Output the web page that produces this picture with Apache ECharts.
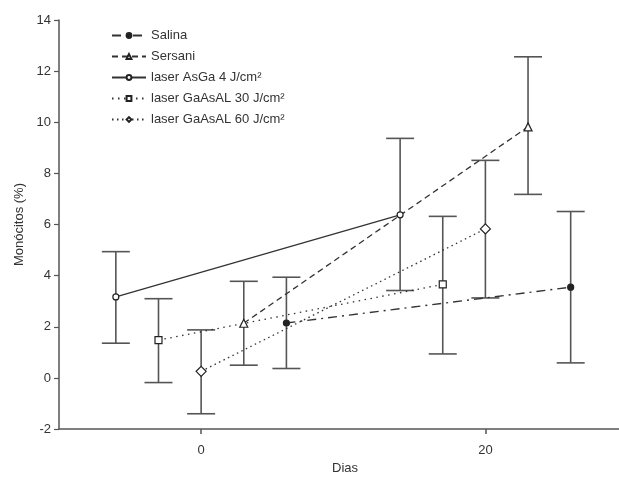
<!DOCTYPE html>
<html>
<head>
<meta charset="utf-8">
<script src="https://cdn.jsdelivr.net/npm/echarts@6/dist/echarts.min.js"></script>
<style>html,body{margin:0;padding:0;background:#fff}#c{width:619px;height:480px}</style>
</head>
<body>
<div id="c"></div>
<script>
const seriesNames = ['Salina', 'Sersani', 'laser AsGa 4 J/cm²', 'laser GaAsAL 30 J/cm²', 'laser GaAsAL 60 J/cm²'];
const xTickLabels = [0, 20];
const yTickLabels = [-2, 0, 2, 4, 6, 8, 10, 12, 14];

const salinaX = [6, 26];
const salinaMean = [2.15, 3.55];
const salinaLow = [0.37, 0.59];
const salinaHigh = [3.94, 6.51];

const sersaniX = [3, 23];
const sersaniMean = [2.14, 9.82];
const sersaniLow = [0.5, 7.18];
const sersaniHigh = [3.78, 12.56];

const asgaX = [-6, 14];
const asgaMean = [3.17, 6.38];
const asgaLow = [1.36, 3.42];
const asgaHigh = [4.94, 9.37];

const ga30X = [-3, 17];
const ga30Mean = [1.48, 3.66];
const ga30Low = [-0.18, 0.94];
const ga30High = [3.1, 6.32];

const ga60X = [0, 20];
const ga60Mean = [0.26, 5.83];
const ga60Low = [-1.4, 3.13];
const ga60High = [1.88, 8.51];

const groups = [
  {x: salinaX, m: salinaMean, lo: salinaLow, hi: salinaHigh, symbol: 'circle', size: 6, fill: '#222', dash: [9, 5, 2, 5]},
  {x: sersaniX, m: sersaniMean, lo: sersaniLow, hi: sersaniHigh, symbol: 'triangle', size: 8, fill: '#fff', dash: [6, 4]},
  {x: asgaX, m: asgaMean, lo: asgaLow, hi: asgaHigh, symbol: 'circle', size: 6, fill: '#fff', dash: 'solid'},
  {x: ga30X, m: ga30Mean, lo: ga30Low, hi: ga30High, symbol: 'rect', size: 7, fill: '#fff', dash: [1.5, 4.5]},
  {x: ga60X, m: ga60Mean, lo: ga60Low, hi: ga60High, symbol: 'diamond', size: 10, fill: '#fff', dash: [1.5, 3.5]}
];

const lineColor = '#333';
const font = 'Liberation Sans, Arial, sans-serif';

const series = [];
groups.forEach((g, i) => {
  series.push({
    type: 'custom',
    name: seriesNames[i] + '_err',
    z: 2,
    silent: true,
    renderItem: function (params, api) {
      const x = api.value(0);
      const top = api.coord([x, api.value(2)]);
      const bot = api.coord([x, api.value(1)]);
      const hw = 14;
      const st = {stroke: '#555', lineWidth: 1.6};
      return {
        type: 'group',
        children: [
          {type: 'line', shape: {x1: top[0], y1: top[1], x2: bot[0], y2: bot[1]}, style: st},
          {type: 'line', shape: {x1: top[0] - hw, y1: top[1], x2: top[0] + hw, y2: top[1]}, style: st},
          {type: 'line', shape: {x1: bot[0] - hw, y1: bot[1], x2: bot[0] + hw, y2: bot[1]}, style: st}
        ]
      };
    },
    data: g.x.map((x, k) => [x, g.lo[k], g.hi[k]])
  });
});
groups.forEach((g, i) => {
  series.push({
    type: 'line',
    name: seriesNames[i],
    z: 5,
    symbol: g.symbol,
    symbolSize: g.size,
    showAllSymbol: true,
    lineStyle: {color: lineColor, width: 1.3, type: g.dash},
    itemStyle: {color: g.fill, borderColor: '#222', borderWidth: 1.2},
    data: g.x.map((x, k) => [x, g.m[k]])
  });
});

const chart = echarts.init(document.getElementById('c'), null, {renderer: 'canvas'});
chart.setOption({
  backgroundColor: '#fff',
  animation: false,
  legend: {
    data: seriesNames,
    orient: 'vertical',
    left: 106,
    top: 24,
    itemWidth: 34,
    itemHeight: 6,
    itemGap: 8,
    textStyle: {fontFamily: font, fontSize: 13, color: '#333'},
    inactiveColor: '#333'
  },
  grid: {left: 59, right: 0, top: 20, bottom: 46, containLabel: false},
  xAxis: {
    type: 'value',
    min: -10,
    max: 29.4,
    name: 'Dias',
    nameLocation: 'middle',
    nameGap: 32,
    nameTextStyle: {fontFamily: font, fontSize: 13, color: '#333', padding: [0, 0, 0, 12]},
    splitLine: {show: false},
    axisLine: {onZero: false, lineStyle: {color: '#555', width: 1.5}},
    axisTick: {show: true, length: 5, customValues: xTickLabels, lineStyle: {color: '#555', width: 1.5}},
    axisLabel: {customValues: xTickLabels, fontFamily: font, fontSize: 13, color: '#333', margin: 15}
  },
  yAxis: {
    type: 'value',
    min: -2,
    max: 14,
    interval: 2,
    name: 'Monócitos (%)',
    nameLocation: 'middle',
    nameGap: 32,
    nameTextStyle: {fontFamily: font, fontSize: 13, color: '#333'},
    splitLine: {show: false},
    axisLine: {show: true, onZero: false, lineStyle: {color: '#555', width: 1.5}},
    axisTick: {show: true, length: 5, lineStyle: {color: '#555', width: 1.2}},
    axisLabel: {fontFamily: font, fontSize: 13, color: '#333', margin: 8}
  },
  series: series
});
</script>
</body>
</html>
